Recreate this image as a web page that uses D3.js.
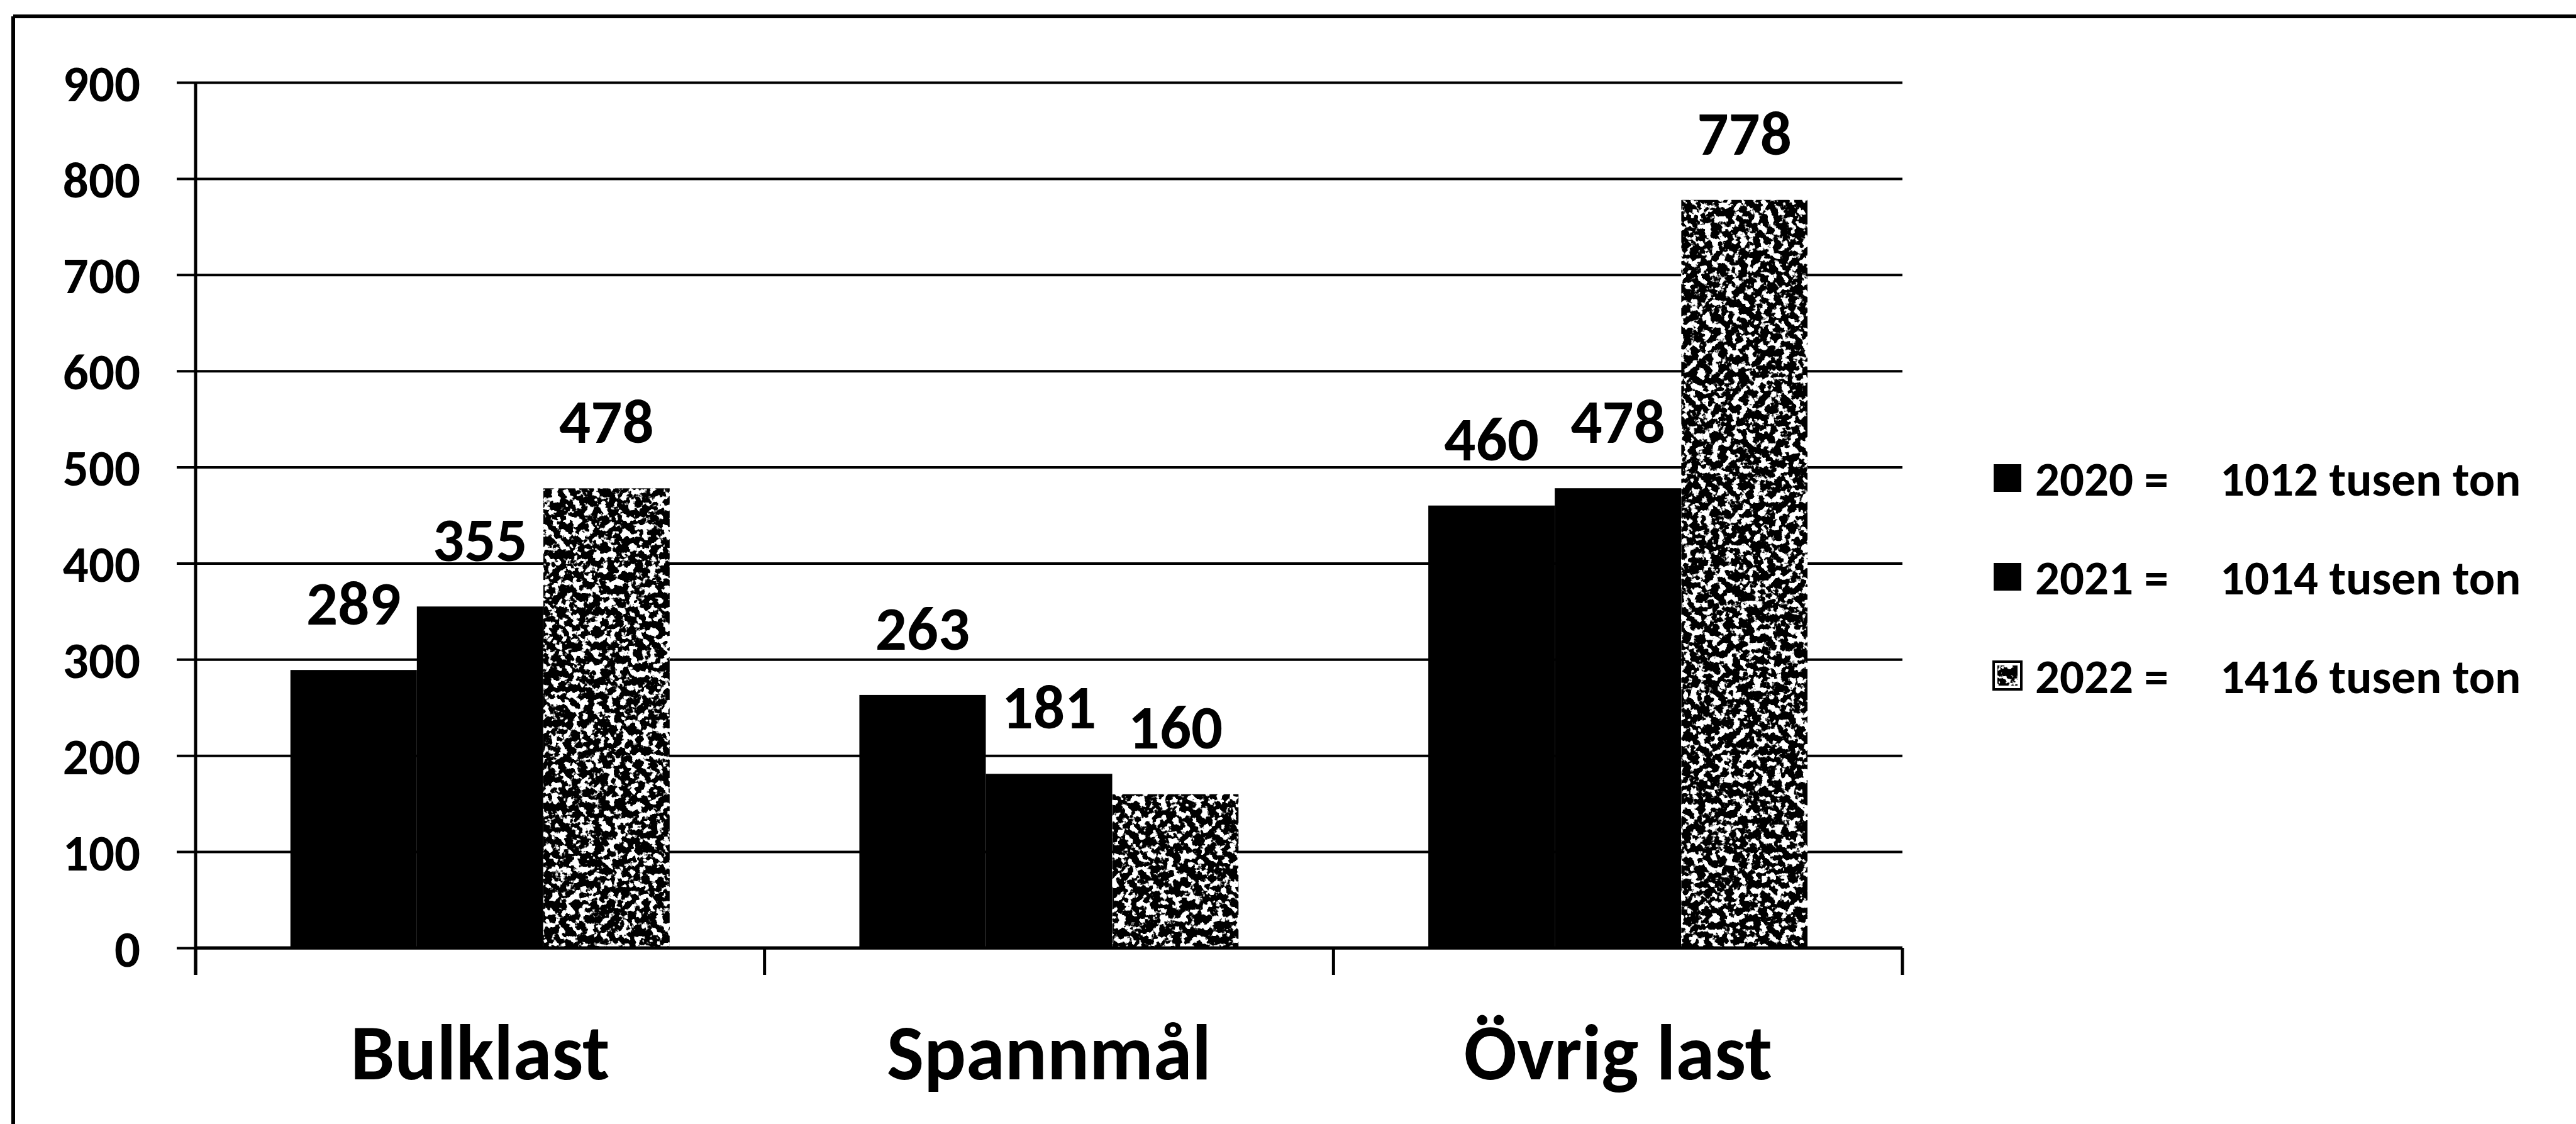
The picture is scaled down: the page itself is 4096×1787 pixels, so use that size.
<!DOCTYPE html>
<html lang="sv">
<head>
<meta charset="UTF-8">
<title>Godsmängd per lasttyp 2020–2022</title>
<style>
  html, body { margin: 0; padding: 0; background: #fff; }
  svg { display: block; }
  text { font-family: Carlito, Calibri, Lato, sans-serif; font-weight: 700; fill: #000; }
</style>
</head>
<body>
<svg id="chart"></svg>
<script src="https://d3js.org/d3.v7.min.js"></script>
<script>
// data
const categories = ["Bulklast", "Spannmål", "Övrig last"];
const years = ["2020", "2021", "2022"];
const values2020 = [289, 263, 460];
const values2021 = [355, 181, 478];
const values2022 = [478, 160, 778];
const yearTotals = ["1012", "1014", "1416"];
const yTicks = [0, 100, 200, 300, 400, 500, 600, 700, 800, 900];

const seriesValues = [values2020, values2021, values2022];

const W = 4096, H = 1787;
const plot = { left: 311, right: 3025, top: 131, bottom: 1507 };

const svg = d3.select("#chart").attr("width", W).attr("height", H);

// speckled fill used for 2022
const defs = svg.append("defs");
const f = defs.append("filter")
  .attr("id", "speckle")
  .attr("x", 0).attr("y", 0).attr("width", 1).attr("height", 1)
  .attr("color-interpolation-filters", "sRGB");
f.append("feTurbulence")
  .attr("type", "fractalNoise").attr("baseFrequency", 0.09)
  .attr("numOctaves", 3).attr("seed", 7).attr("result", "n");
f.append("feColorMatrix")
  .attr("in", "n").attr("type", "matrix")
  .attr("values", "0 0 0 0 1  0 0 0 0 1  0 0 0 0 1  14 0 0 0 -7.2")
  .attr("result", "w");
f.append("feComposite").attr("in", "w").attr("in2", "SourceGraphic")
  .attr("operator", "over").attr("result", "c");
f.append("feComposite").attr("in", "c").attr("in2", "SourceGraphic")
  .attr("operator", "in");

// outer frame (left and top edges only are visible)
svg.append("line").attr("x1", 21).attr("x2", 21).attr("y1", 26).attr("y2", H)
  .attr("stroke", "#000").attr("stroke-width", 6);
svg.append("line").attr("x1", 21).attr("x2", W).attr("y1", 26).attr("y2", 26)
  .attr("stroke", "#000").attr("stroke-width", 6);

const x0 = d3.scaleBand().domain(categories).range([plot.left, plot.right]).padding(0);
const x1 = d3.scaleBand().domain(years).range([0, x0.bandwidth()])
  .paddingInner(0).paddingOuter(0.75);
const y = d3.scaleLinear().domain([0, 900]).range([plot.bottom, plot.top]);

// gridlines + left ticks
const yAxis = svg.append("g")
  .attr("transform", `translate(${plot.left},0)`)
  .call(d3.axisLeft(y).tickValues(yTicks).tickSize(-(plot.right - plot.left)).tickPadding(88));
yAxis.select(".domain").remove();
yAxis.selectAll(".tick line")
  .attr("x1", -30)
  .attr("stroke", "#000").attr("stroke-width", 4);
yAxis.selectAll(".tick text")
  .attr("font-size", 81).attr("dy", "0.36em")
  .style("font-family", "Carlito, Calibri, Lato, sans-serif");

// vertical axis line
svg.append("line")
  .attr("x1", plot.left).attr("x2", plot.left)
  .attr("y1", y(900)).attr("y2", plot.bottom + 43)
  .attr("stroke", "#000").attr("stroke-width", 5);

// bars
const rows = [];
categories.forEach((c, i) => {
  years.forEach((yr, j) => rows.push({ cat: c, year: yr, j: j, v: seriesValues[j][i] }));
});

svg.append("g").selectAll("rect")
  .data(rows)
  .join("rect")
  .attr("x", d => x0(d.cat) + x1(d.year))
  .attr("y", d => y(d.v))
  .attr("width", x1.bandwidth())
  .attr("height", d => y(0) - y(d.v))
  .attr("fill", "#000")
  .attr("filter", d => d.j === 2 ? "url(#speckle)" : null);

// value labels
svg.append("g").selectAll("text")
  .data(rows)
  .join("text")
  .attr("x", d => x0(d.cat) + x1(d.year) + x1.bandwidth() / 2)
  .attr("y", d => y(d.v) - 72)
  .attr("text-anchor", "middle")
  .attr("font-size", 99)
  .text(d => d.v);

// category axis
const xAxis = svg.append("g")
  .attr("transform", `translate(0,${plot.bottom})`);
xAxis.append("line")
  .attr("x1", plot.left).attr("x2", plot.right)
  .attr("stroke", "#000").attr("stroke-width", 5);
const edges = categories.map(c => x0(c)).concat([plot.right]);
xAxis.selectAll(".edge")
  .data(edges)
  .join("line")
  .attr("class", "edge")
  .attr("x1", d => d).attr("x2", d => d)
  .attr("y1", 0).attr("y2", 43)
  .attr("stroke", "#000").attr("stroke-width", 5);
xAxis.selectAll(".cat")
  .data(categories)
  .join("text")
  .attr("class", "cat")
  .attr("x", d => x0(d) + x0.bandwidth() / 2)
  .attr("y", 209)
  .attr("text-anchor", "middle")
  .attr("font-size", 125)
  .text(d => d);

// legend
const legend = svg.append("g");
const legendY = d3.scalePoint().domain(years).range([760, 1074]);
years.forEach((yr, j) => {
  const g = legend.append("g").attr("transform", `translate(0,${legendY(yr)})`);
  g.append("rect")
    .attr("x", 3170).attr("y", -22).attr("width", 44).attr("height", 44)
    .attr("fill", j === 2 ? "#fff" : "#000")
    .attr("stroke", "#000").attr("stroke-width", j === 2 ? 4 : 0);
  if (j === 2) {
    g.append("rect")
      .attr("x", 3176).attr("y", -16).attr("width", 32).attr("height", 32)
      .attr("fill", "#000").attr("filter", "url(#speckle)");
  }
  g.append("text")
    .attr("x", 3236).attr("y", 28)
    .attr("font-size", 77)
    .text(`${yr} =`);
  g.append("text")
    .attr("x", 3530).attr("y", 28)
    .attr("font-size", 77)
    .text(`${yearTotals[j]} tusen ton`);
});
</script>
</body>
</html>
